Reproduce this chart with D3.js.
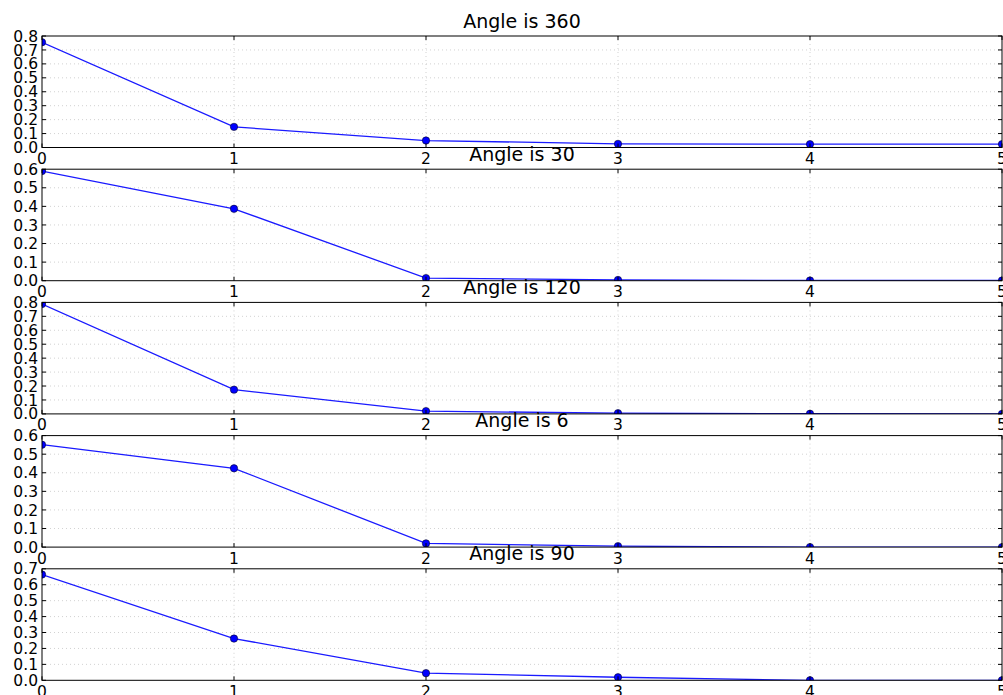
<!DOCTYPE html>
<html>
<head>
<meta charset="utf-8">
<script src="https://cdn.jsdelivr.net/npm/d3@7"></script>
<style>
  html, body { margin: 0; padding: 0; background: #fff; }
  svg { display: block; }
  text { font-family: "DejaVu Sans", sans-serif; fill: #000; }
</style>
</head>
<body>
<svg id="chart" width="1003" height="695"></svg>
<script>
// Step index along the x axis
const steps = [0, 1, 2, 3, 4, 5];
const xTicks = [0, 1, 2, 3, 4, 5];

// One panel per angle, top to bottom
const angles = [360, 30, 120, 6, 90];
const yMaxima = [0.8, 0.6, 0.8, 0.6, 0.7];

// Values per panel
const angle360 = [0.755, 0.148, 0.050, 0.026, 0.024, 0.024];
const angle30  = [0.590, 0.387, 0.014, 0.004, 0.001, 0.001];
const angle120 = [0.788, 0.174, 0.020, 0.005, 0.001, 0.000];
const angle6   = [0.551, 0.424, 0.020, 0.005, 0.000, 0.000];
const angle90  = [0.664, 0.262, 0.045, 0.019, 0.000, 0.000];

const seriesList = [angle360, angle30, angle120, angle6, angle90];

const svg = d3.select("#chart");

const left = 42, right = 1002;
const firstTop = 36, panelStep = 133.2, panelHeight = 111.5;
const tickLen = 4;

const x = d3.scaleLinear().domain([0, 5]).range([left, right]);

angles.forEach((angle, i) => {
  const top = firstTop + i * panelStep;
  const bottom = top + panelHeight;
  const yMax = yMaxima[i];
  const values = seriesList[i];
  const y = d3.scaleLinear().domain([0, yMax]).range([bottom, top]);
  const yTicks = d3.range(0, Math.round(yMax * 10) + 1).map(k => k / 10);

  const g = svg.append("g").attr("class", "panel");

  const clipId = "clip" + i;
  g.append("clipPath").attr("id", clipId)
    .append("rect")
    .attr("x", left).attr("y", top)
    .attr("width", right - left).attr("height", bottom - top);

  g.append("rect")
    .attr("x", left).attr("y", top)
    .attr("width", right - left).attr("height", bottom - top)
    .attr("fill", "#fff");

  // dotted grid
  const grid = g.append("g")
    .attr("stroke", "#b4b4b4")
    .attr("stroke-width", 0.6)
    .attr("stroke-dasharray", "1,3");
  grid.selectAll("line.h").data(yTicks.slice(1, -1)).join("line")
    .attr("class", "h")
    .attr("x1", left).attr("x2", right)
    .attr("y1", d => y(d)).attr("y2", d => y(d));
  grid.selectAll("line.v").data(xTicks.slice(1, -1)).join("line")
    .attr("class", "v")
    .attr("y1", top).attr("y2", bottom)
    .attr("x1", d => x(d)).attr("x2", d => x(d));

  // series line and markers, clipped to the axes
  const plot = g.append("g").attr("clip-path", `url(#${clipId})`);
  const line = d3.line().x((d, k) => x(steps[k])).y(d => y(d));
  plot.append("path")
    .datum(values)
    .attr("d", line)
    .attr("fill", "none")
    .attr("stroke", "#1a1aff")
    .attr("stroke-width", 1.3);
  plot.selectAll("circle").data(values).join("circle")
    .attr("cx", (d, k) => x(steps[k]))
    .attr("cy", d => y(d))
    .attr("r", 3.7)
    .attr("fill", "#0000ff")
    .attr("stroke", "#000")
    .attr("stroke-width", 0.5);

  // inward ticks on all four sides
  const ticks = g.append("g").attr("stroke", "#000").attr("stroke-width", 1);
  ticks.selectAll("line.yl").data(yTicks).join("line")
    .attr("class", "yl")
    .attr("x1", left).attr("x2", left + tickLen)
    .attr("y1", d => y(d)).attr("y2", d => y(d));
  ticks.selectAll("line.yr").data(yTicks).join("line")
    .attr("class", "yr")
    .attr("x1", right - tickLen).attr("x2", right)
    .attr("y1", d => y(d)).attr("y2", d => y(d));
  ticks.selectAll("line.xb").data(xTicks).join("line")
    .attr("class", "xb")
    .attr("y1", bottom).attr("y2", bottom - tickLen)
    .attr("x1", d => x(d)).attr("x2", d => x(d));
  ticks.selectAll("line.xt").data(xTicks).join("line")
    .attr("class", "xt")
    .attr("y1", top).attr("y2", top + tickLen)
    .attr("x1", d => x(d)).attr("x2", d => x(d));

  // frame
  g.append("rect")
    .attr("x", left).attr("y", top)
    .attr("width", right - left).attr("height", bottom - top)
    .attr("fill", "none")
    .attr("stroke", "#000")
    .attr("stroke-width", 1);

  // y tick labels
  g.selectAll("text.ylab").data(yTicks).join("text")
    .attr("class", "ylab")
    .attr("x", left - 4)
    .attr("y", d => y(d))
    .attr("dy", "0.36em")
    .attr("text-anchor", "end")
    .attr("font-size", 15.5)
    .text(d3.format(".1f"));

  // x tick labels
  g.selectAll("text.xlab").data(xTicks).join("text")
    .attr("class", "xlab")
    .attr("x", d => x(d))
    .attr("y", bottom + 16.5)
    .attr("text-anchor", "middle")
    .attr("font-size", 15.5)
    .text(d => d);

  // title
  g.append("text")
    .attr("x", (left + right) / 2)
    .attr("y", top - 8.5)
    .attr("text-anchor", "middle")
    .attr("font-size", 19)
    .text("Angle is " + angle);
});
</script>
</body>
</html>
